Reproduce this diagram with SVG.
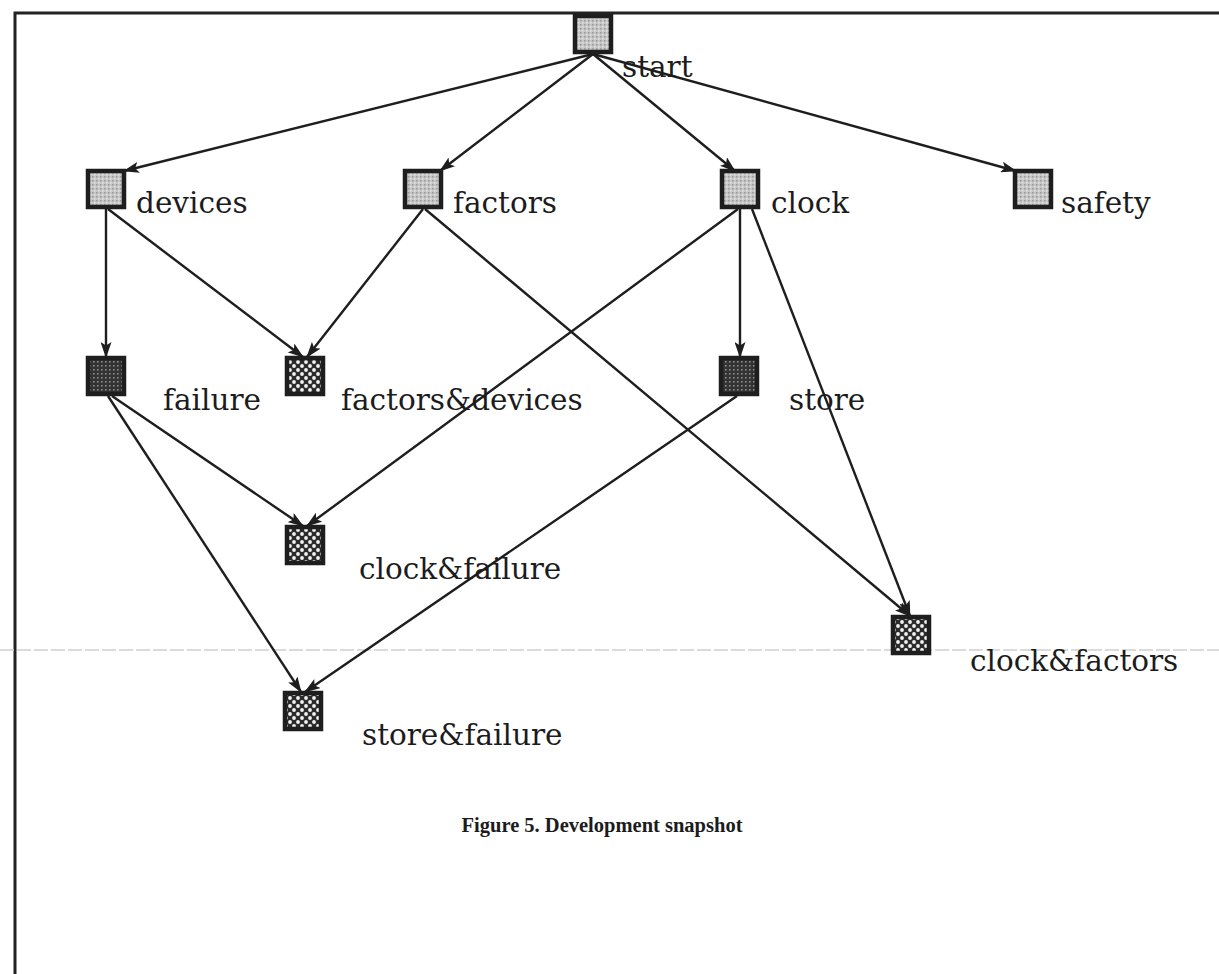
<svg xmlns="http://www.w3.org/2000/svg" width="1219" height="974" viewBox="0 0 1219 974">
  <style>
    .lbl { font-family: "DejaVu Serif", "Liberation Serif", serif; font-size: 29.5px; fill: #1c1c1c; }
    .cap { font-family: "Liberation Serif", serif; font-size: 20.5px; font-weight: bold; fill: #1c1c1c; }
    .box { stroke: #1e1e1e; stroke-width: 4.5; }
    .light { fill: url(#stipple); }
    .dark { fill: url(#darkdots); }
    .mesh { fill: url(#mesh); }
    .edge { fill: none; stroke: #1e1e1e; stroke-width: 2.4; marker-end: url(#arrow); }
  </style>
  <defs>
    <!-- light grey stipple used for the plain nodes -->
    <pattern id="stipple" width="4" height="4" patternUnits="userSpaceOnUse">
      <rect width="4" height="4" fill="#c6c6c6"/>
      <rect x="0" y="0" width="1.5" height="1.5" fill="#999999"/>
      <rect x="2" y="2" width="1.5" height="1.5" fill="#e2e2e2"/>
    </pattern>
    <!-- dark fine dots -->
    <pattern id="darkdots" width="4" height="4" patternUnits="userSpaceOnUse">
      <rect width="4" height="4" fill="#333333"/>
      <rect x="1" y="1" width="1.6" height="1.6" fill="#8c8c8c"/>
    </pattern>
    <!-- lattice with open holes for combined nodes -->
    <pattern id="mesh" width="8" height="8" patternUnits="userSpaceOnUse">
      <rect width="8" height="8" fill="#2a2a2a"/>
      <circle cx="2" cy="2" r="1.9" fill="#f2f2f2"/>
      <circle cx="6" cy="6" r="1.9" fill="#f2f2f2"/>
    </pattern>
    <marker id="arrow" viewBox="0 0 16 11" refX="15" refY="5.5" markerWidth="16" markerHeight="11" markerUnits="userSpaceOnUse" orient="auto">
      <path d="M0,0 L16,5.5 L0,11 L3.5,5.5 z" fill="#1e1e1e"/>
    </marker>
  </defs>

  <rect width="1219" height="974" fill="#ffffff"/>

  <!-- page frame (top and left rules) -->
  <path d="M15,974 V13 H1219" fill="none" stroke="#222" stroke-width="3"/>
  <!-- faint rule across the page -->
  <line x1="0" y1="650" x2="1219" y2="650" stroke="#cfcfcf" stroke-width="1.5" stroke-dasharray="14 3"/>

  <g id="connectors">
    <line class="edge" x1="593" y1="54" x2="124" y2="171"/>
    <line class="edge" x1="593" y1="54" x2="440" y2="171"/>
    <line class="edge" x1="593" y1="54" x2="735" y2="171"/>
    <line class="edge" x1="593" y1="54" x2="1016" y2="171"/>
    <line class="edge" x1="106" y1="209" x2="106" y2="357"/>
    <line class="edge" x1="108" y1="209" x2="303" y2="357"/>
    <line class="edge" x1="423" y1="209" x2="307" y2="357"/>
    <line class="edge" x1="425" y1="209" x2="910" y2="616"/>
    <line class="edge" x1="738" y1="209" x2="307" y2="526"/>
    <line class="edge" x1="740" y1="209" x2="740" y2="357"/>
    <line class="edge" x1="752" y1="209" x2="910" y2="616"/>
    <line class="edge" x1="112" y1="396" x2="303" y2="526"/>
    <line class="edge" x1="108" y1="396" x2="301" y2="692"/>
    <line class="edge" x1="737" y1="396" x2="305" y2="692"/>
  </g>

  <g id="start">
    <rect class="box light" x="575" y="16" width="36" height="36"/>
    <text class="lbl" x="622" y="77">start</text>
  </g>
  <g id="devices">
    <rect class="box light" x="88" y="171" width="36" height="36"/>
    <text class="lbl" x="136" y="213">devices</text>
  </g>
  <g id="factors">
    <rect class="box light" x="405" y="171" width="36" height="36"/>
    <text class="lbl" x="453" y="213">factors</text>
  </g>
  <g id="clock">
    <rect class="box light" x="722" y="171" width="36" height="36"/>
    <text class="lbl" x="771" y="213">clock</text>
  </g>
  <g id="safety">
    <rect class="box light" x="1015" y="171" width="36" height="36"/>
    <text class="lbl" x="1061" y="213">safety</text>
  </g>
  <g id="failure">
    <rect class="box dark" x="88" y="358" width="36" height="36"/>
    <text class="lbl" x="163" y="410">failure</text>
  </g>
  <g id="factors-devices">
    <rect class="box mesh" x="287" y="358" width="36" height="36"/>
    <text class="lbl" x="341" y="410">factors&amp;devices</text>
  </g>
  <g id="store">
    <rect class="box dark" x="721" y="358" width="36" height="36"/>
    <text class="lbl" x="789" y="410">store</text>
  </g>
  <g id="clock-failure">
    <rect class="box mesh" x="287" y="527" width="36" height="36"/>
    <text class="lbl" x="359" y="579">clock&amp;failure</text>
  </g>
  <g id="clock-factors">
    <rect class="box mesh" x="893" y="617" width="36" height="36"/>
    <text class="lbl" x="970" y="671">clock&amp;factors</text>
  </g>
  <g id="store-failure">
    <rect class="box mesh" x="285" y="693" width="36" height="36"/>
    <text class="lbl" x="362" y="745">store&amp;failure</text>
  </g>

  <text class="cap" x="602" y="832" text-anchor="middle">Figure 5.  Development snapshot</text>
</svg>
